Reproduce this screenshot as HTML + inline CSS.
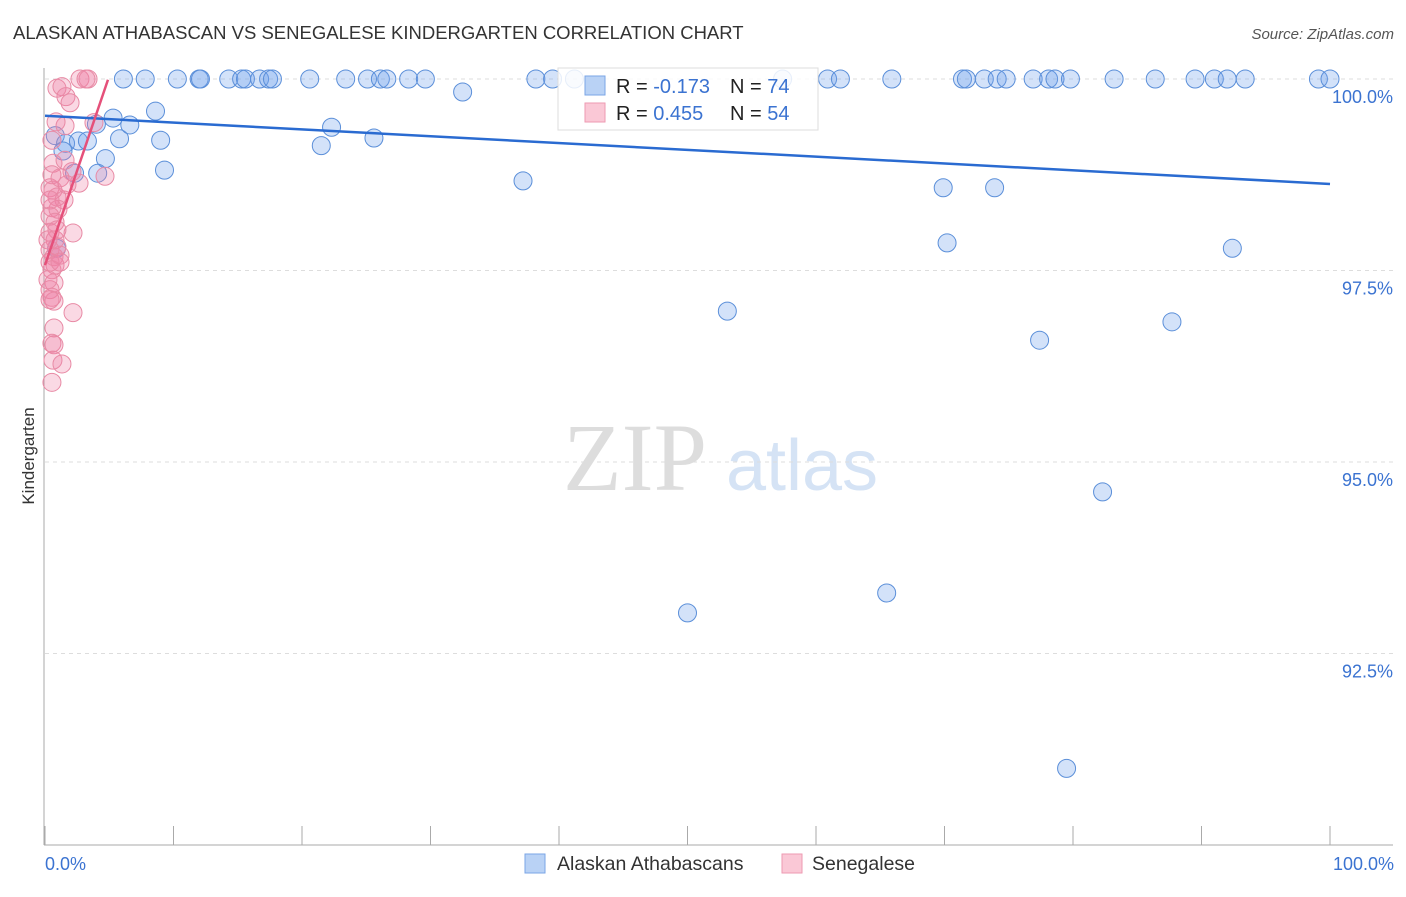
<!DOCTYPE html>
<html><head><meta charset="utf-8"><style>
body{margin:0;background:#fff;font-family:"Liberation Sans",sans-serif}
</style></head><body>
<svg id="c" width="1406" height="892" xmlns="http://www.w3.org/2000/svg" font-family="Liberation Sans, sans-serif">
<text x="13" y="39" font-size="18.5" fill="#333">ALASKAN ATHABASCAN VS SENEGALESE KINDERGARTEN CORRELATION CHART</text>
<text x="1394" y="39" font-size="15" fill="#555" font-style="italic" text-anchor="end">Source: ZipAtlas.com</text>
<g>
<text x="635" y="490" font-size="96" fill="#ddd" font-family="Liberation Serif, serif" text-anchor="middle">ZIP</text>
<text x="802" y="490" font-size="72" fill="#d5e3f5" text-anchor="middle">atlas</text>
</g>
<g id="grid"></g>
<g id="axes"></g>
<g id="pts"></g>
<g id="trend"></g>
<text transform="translate(34,456) rotate(-90)" font-size="17" fill="#333" text-anchor="middle">Kindergarten</text>
<text x="45" y="870" font-size="18" fill="#3b73d1">0.0%</text>
<text x="1394" y="870" font-size="18" fill="#3b73d1" text-anchor="end">100.0%</text>
<g>
<rect x="558" y="68" width="260" height="62" fill="#fff" fill-opacity="0.85" stroke="#ddd"/>
<rect x="585" y="76" width="20" height="19" fill="#b9d2f5" stroke="#7aa5e6"/>
<rect x="585" y="103" width="20" height="19" fill="#fac8d6" stroke="#ee9ab2"/>
<text x="616" y="93" font-size="20" fill="#222">R = <tspan fill="#3b73d1">-0.173</tspan></text>
<text x="730" y="93" font-size="20" fill="#222">N = <tspan fill="#3b73d1">74</tspan></text>
<text x="616" y="120" font-size="20" fill="#222">R = <tspan fill="#3b73d1"> 0.455</tspan></text>
<text x="730" y="120" font-size="20" fill="#222">N = <tspan fill="#3b73d1">54</tspan></text>
</g>
<g>
<rect x="525" y="854" width="20" height="19" fill="#b9d2f5" stroke="#7aa5e6"/>
<text x="557" y="870" font-size="19.5" fill="#333">Alaskan Athabascans</text>
<rect x="782" y="854" width="20" height="19" fill="#fac8d6" stroke="#ee9ab2"/>
<text x="812" y="870" font-size="19.5" fill="#333">Senegalese</text>
</g>
</svg>
<script>
const yTicks=[100,97.5,95,92.5];
const yTickLabels=["100.0%","97.5%","95.0%","92.5%"];
const xTicks=[0,10,20,30,40,50,60,70,80,90,100];
const blueX=[6.1,7.8,10.3,12.0,12.1,14.3,15.3,15.6,16.7,17.4,17.7,20.6,23.4,25.1,26.1,26.6,28.3,29.6,38.2,39.5,41.2,57.4,60.9,61.9,65.9,71.4,71.7,73.1,74.1,74.8,76.9,78.1,78.6,79.8,83.2,86.4,89.5,91.0,92.0,93.4,99.1,100,
0.8,1.6,2.6,3.3,1.4,2.3,4.0,4.7,5.3,4.1,5.8,6.6,8.6,9.0,9.3,22.3,21.5,25.6,32.5,37.2,53.1,50.0,65.5,69.9,73.9,70.2,77.4,82.3,79.5,87.7,92.4,0.9];
const blueY=[100,100,100,100,100,100,100,100,100,100,100,100,100,100,100,100,100,100,100,100,100,100,100,100,100,100,100,100,100,100,100,100,100,100,100,100,100,100,100,100,100,100,
99.26,99.16,99.19,99.19,99.06,98.77,99.41,98.96,99.49,98.77,99.22,99.40,99.58,99.20,98.81,99.37,99.13,99.23,99.83,98.67,96.97,93.03,93.29,98.58,98.58,97.86,96.59,94.61,91.00,96.83,97.79,97.79];
const pinkX=[0.93,1.32,1.63,1.95,2.72,3.35,3.19,3.81,1.56,2.10,4.67,2.65,0.62,0.54,0.39,0.62,0.93,1.48,0.54,1.01,0.39,0.78,2.18,0.39,0.78,0.39,0.93,0.70,0.39,0.78,0.54,0.70,0.39,0.54,0.70,2.18,0.70,0.54,0.70,0.62,1.32,0.54,1.56,1.17,0.93,0.39,0.23,0.23,1.17,1.71,0.54,0.86,0.39,1.17];
const pinkY=[99.88,99.90,99.77,99.69,100,100,100,99.43,99.39,98.79,98.73,98.64,98.90,98.75,98.58,98.55,98.46,98.42,98.32,98.30,98.21,98.13,97.99,98.00,97.90,97.77,97.81,97.68,97.61,97.57,97.51,97.34,97.25,97.15,97.10,96.95,96.75,96.55,96.53,96.33,96.28,96.04,98.94,98.71,98.03,98.42,97.90,97.38,97.70,98.62,99.20,99.44,97.12,97.61];
const blueTrend=[[0,99.52],[100,98.63]];
const pinkTrend=[[0,97.57],[4.9,99.99]];
const NS="http://www.w3.org/2000/svg";
const X=v=>45+v*12.85, Y=v=>79+(100-v)*76.6;
function mk(t,a,p){const e=document.createElementNS(NS,t);for(const k in a)e.setAttribute(k,a[k]);p.appendChild(e);return e;}
const g=document.getElementById('grid'),ax=document.getElementById('axes'),pts=document.getElementById('pts'),tr=document.getElementById('trend');
yTicks.forEach((t,i)=>{
 const l=mk('line',{x1:45,x2:1393,y1:Y(t),y2:Y(t),stroke:'#ddd','stroke-dasharray':'4,4'},g);
 
 
 const tx=mk('text',{x:1393,y:Y(t)+24,'font-size':18,fill:'#3b73d1','text-anchor':'end'},g);
 tx.textContent=yTickLabels[i];
 
 
});
const la=mk('line',{x1:44,x2:44,y1:68,y2:845,stroke:'#aaa'},ax);


const ba=mk('line',{x1:44,x2:1393,y1:845,y2:845,stroke:'#aaa'},ax);


xTicks.forEach(t=>{
 const l=mk('line',{x1:X(t),x2:X(t),y1:826,y2:845,stroke:'#aaa'},ax);
 
 
});
function dots(xs,ys,fill,stroke,name){xs.forEach((x,i)=>{
 const c=mk('circle',{cx:X(x),cy:Y(ys[i]),r:9,fill:fill,stroke:stroke,'stroke-width':1},pts);
 
 
});}
dots(blueX,blueY,'rgba(110,160,235,0.3)','#5b8fd9','athabascan-point');
dots(pinkX,pinkY,'rgba(240,130,165,0.3)','#e88aa5','senegalese-point');
const b=mk('line',{x1:X(blueTrend[0][0]),y1:Y(blueTrend[0][1]),x2:X(blueTrend[1][0]),y2:Y(blueTrend[1][1]),stroke:'#2a6bd1','stroke-width':2.5},tr);


const p=mk('line',{x1:X(pinkTrend[0][0]),y1:Y(pinkTrend[0][1]),x2:X(pinkTrend[1][0]),y2:Y(pinkTrend[1][1]),stroke:'#e5507a','stroke-width':2.5},tr);


</script>
</body></html>
